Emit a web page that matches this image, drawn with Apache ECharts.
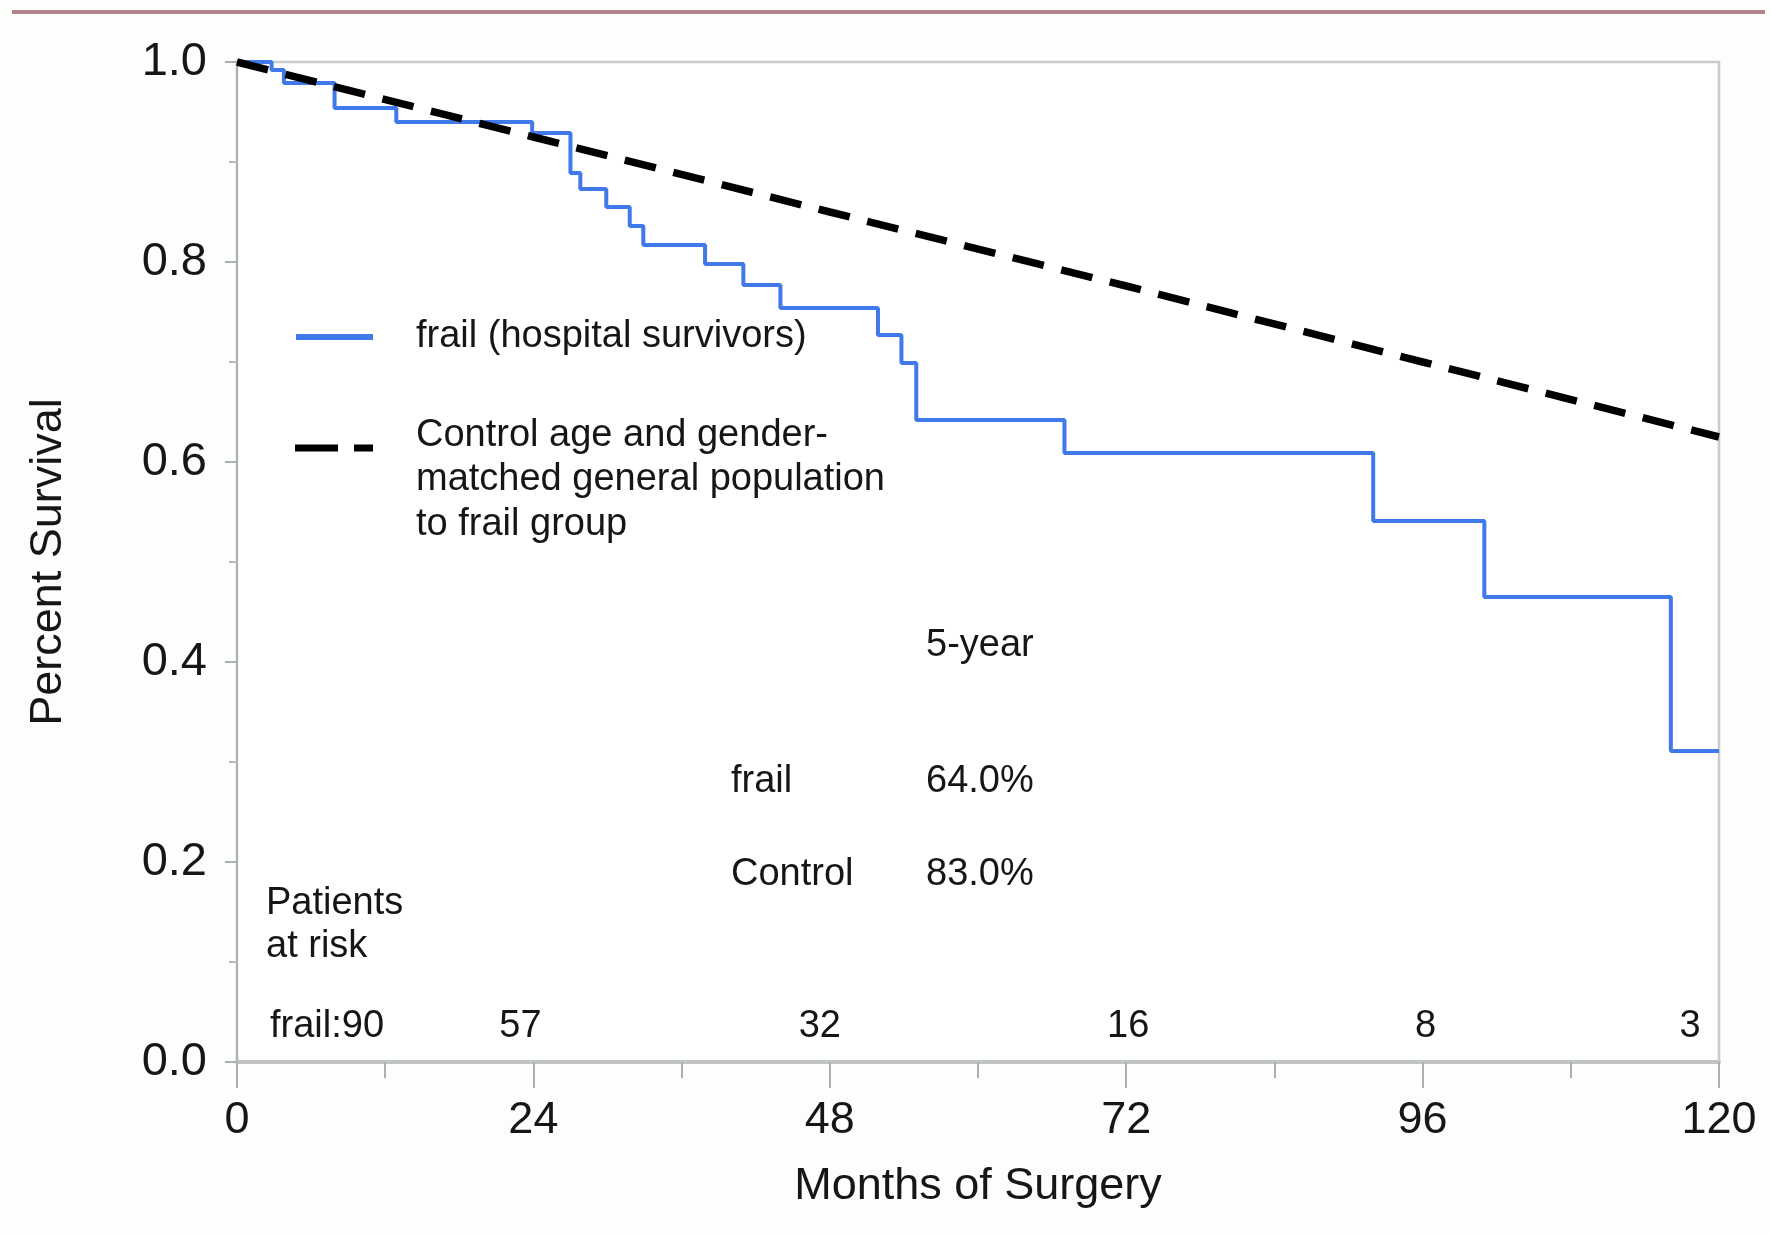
<!DOCTYPE html>
<html>
<head>
<meta charset="utf-8">
<script src="https://cdn.jsdelivr.net/npm/echarts@6/dist/echarts.min.js"></script>
<style>
  html, body { margin: 0; padding: 0; background: #fdfdfc; }
  #chart { width: 1771px; height: 1234px; }
</style>
</head>
<body>
<div id="chart"></div>
<script>
// ---- data ----
const frailSurvival = [
  [0, 1.0], [2.8, 0.992], [3.8, 0.979], [7.9, 0.954], [12.9, 0.940],
  [23.9, 0.929], [27.0, 0.889], [27.8, 0.873], [29.9, 0.855], [31.8, 0.836],
  [32.9, 0.817], [37.9, 0.798], [41.0, 0.777], [44.0, 0.754], [51.9, 0.727],
  [53.8, 0.699], [55.0, 0.642], [67.0, 0.609], [92.0, 0.541], [101.0, 0.465],
  [116.1, 0.311], [120, 0.311]
];
const controlSurvival = [
  [0, 1.0], [24, 0.925], [48, 0.850], [72, 0.776], [96, 0.700], [120, 0.625]
];
const riskMonths = [0, 24, 48, 72, 96, 120];
const riskLabels = ['frail:90', '57', '32', '16', '8', '3'];
const xTicks = [0, 24, 48, 72, 96, 120];
const yTicks = ['0.0', '0.2', '0.4', '0.6', '0.8', '1.0'];
const fiveYearRows = [['frail', '64.0%'], ['Control', '83.0%']];

// ---- layout / style constants ----
const FONT = '"Liberation Sans", Arial, Helvetica, sans-serif';
const TXT = '#161616';
const BLUE = '#4079ea';
const riskOffsets = [[34, 0, 'left'], [-12, 0, 'center'], [-9, 0, 'center'], [3, 0, 'center'], [4, 0, 'center'], [-28, 0, 'center']];
const RISK_Y = 0.034;

const chart = echarts.init(document.getElementById('chart'), null, { renderer: 'canvas' });

const riskData = riskMonths.map((m, i) => ({
  value: [m, RISK_Y],
  label: {
    show: true,
    formatter: riskLabels[i],
    position: [0, 0],
    offset: [riskOffsets[i][0], riskOffsets[i][1]],
    align: riskOffsets[i][2],
    verticalAlign: 'middle',
    fontSize: 38, color: TXT, fontFamily: FONT,
    textBorderWidth: 0, opacity: 1
  }
}));

const option = {
  backgroundColor: '#fdfdfc',
  animation: false,
  grid: {
    left: 237, right: 52, top: 62, bottom: 172,
    show: true, borderColor: '#c9cccc', borderWidth: 2.5, backgroundColor: '#ffffff'
  },
  xAxis: {
    type: 'value', min: 0, max: 120, interval: 24,
    name: 'Months of Surgery', nameLocation: 'middle', nameGap: 102,
    nameTextStyle: { fontSize: 45, color: TXT, fontFamily: FONT },
    axisLine: { show: true, onZero: false, lineStyle: { color: '#bfc3c3', width: 4 } },
    axisTick: { show: true, length: 26, lineStyle: { color: '#a9b0b0', width: 2 } },
    minorTick: { show: true, splitNumber: 2, length: 16, lineStyle: { color: '#a9b0b0', width: 2 } },
    splitLine: { show: false },
    axisLabel: {
      margin: 36, fontSize: 45, color: TXT, fontFamily: FONT,
      formatter: v => String(xTicks[xTicks.indexOf(v)] ?? v)
    }
  },
  yAxis: {
    type: 'value', min: 0, max: 1, interval: 0.2,
    name: 'Percent Survival', nameLocation: 'middle', nameGap: 166, nameRotate: 90,
    nameTextStyle: { fontSize: 45, color: TXT, fontFamily: FONT },
    axisLine: { show: true, lineStyle: { color: '#a9b3b3', width: 2 } },
    axisTick: { show: true, length: 12, lineStyle: { color: '#a9b0b0', width: 2 } },
    minorTick: { show: true, splitNumber: 2, length: 8, lineStyle: { color: '#b5bbbb', width: 2 } },
    splitLine: { show: false },
    axisLabel: {
      margin: 30, fontSize: 47, color: TXT, fontFamily: FONT,
      formatter: v => yTicks[Math.round(v * 5)]
    }
  },
  series: [
    {
      name: 'frail (hospital survivors)', type: 'line', step: 'end',
      data: frailSurvival, symbol: 'none',
      lineStyle: { color: BLUE, width: 4 }, z: 3
    },
    {
      name: 'Control', type: 'line', data: controlSurvival, symbol: 'none',
      lineStyle: { color: '#000000', width: 7.5, type: [32, 18] }, z: 4
    },
    {
      name: 'risk', type: 'scatter', data: riskData, symbolSize: 2,
      itemStyle: { color: 'rgba(0,0,0,0)' }, silent: true, z: 5
    }
  ],
  graphic: [
    { type: 'line', shape: { x1: 12, y1: 12, x2: 1765, y2: 12 },
      style: { stroke: '#b3838b', lineWidth: 4 } },
    // legend
    { type: 'line', shape: { x1: 296, y1: 337, x2: 373, y2: 337 },
      style: { stroke: BLUE, lineWidth: 6 } },
    { type: 'line', shape: { x1: 295, y1: 448, x2: 338, y2: 448 },
      style: { stroke: '#000', lineWidth: 7 } },
    { type: 'line', shape: { x1: 354, y1: 448, x2: 373, y2: 448 },
      style: { stroke: '#000', lineWidth: 7 } },
    { type: 'text', left: 416, top: 337 - 22,
      style: { text: 'frail (hospital survivors)', fontSize: 38, fill: TXT, fontFamily: FONT, lineHeight: 44 } },
    { type: 'text', left: 416, top: 435 - 22,
      style: { text: 'Control age and gender-\nmatched general population\nto frail group',
               fontSize: 38, fill: TXT, fontFamily: FONT, lineHeight: 44.5 } },
    // 5-year table
    { type: 'text', left: 926, top: 646 - 22,
      style: { text: '5-year', fontSize: 38, fill: TXT, fontFamily: FONT, lineHeight: 44 } },
    { type: 'text', left: 731, top: 782 - 22,
      style: { text: fiveYearRows[0][0], fontSize: 38, fill: TXT, fontFamily: FONT, lineHeight: 44 } },
    { type: 'text', left: 926, top: 782 - 22,
      style: { text: fiveYearRows[0][1], fontSize: 38, fill: TXT, fontFamily: FONT, lineHeight: 44 } },
    { type: 'text', left: 731, top: 875 - 22,
      style: { text: fiveYearRows[1][0], fontSize: 38, fill: TXT, fontFamily: FONT, lineHeight: 44 } },
    { type: 'text', left: 926, top: 875 - 22,
      style: { text: fiveYearRows[1][1], fontSize: 38, fill: TXT, fontFamily: FONT, lineHeight: 44 } },
    // patients at risk header
    { type: 'text', left: 266, top: 904 - 22,
      style: { text: 'Patients\nat risk', fontSize: 38, fill: TXT, fontFamily: FONT, lineHeight: 43 } }
  ]
};
chart.setOption(option);
</script>
</body>
</html>
